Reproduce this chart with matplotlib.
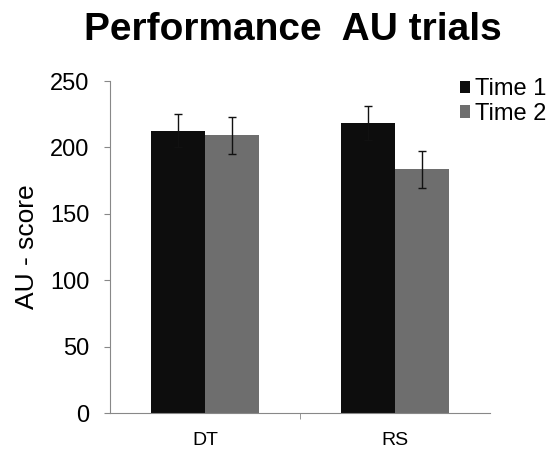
# Performance AU trials - grouped bars with error bars
import numpy as np
import matplotlib.pyplot as plt

plt.rcParams['font.family'] = ['Liberation Sans', 'DejaVu Sans']

# -------------------- Data --------------------
groups = ['DT', 'RS']
series = ['Time 1', 'Time 2']
time1 = [212.5, 218.5]
time2 = [209.0, 183.5]
time1_err = [12.5, 12.6]
time2_err = [13.6, 13.7]
colors = ['#0d0d0d', '#6e6e6e']
# ----------------------------------------------

fig = plt.figure(figsize=(5.54, 4.51), dpi=100)
ax = fig.add_axes([110 / 554, 1 - 413 / 451, 380 / 554, 332 / 451])

x = np.arange(len(groups))
w = 0.285
ax.bar(x - w / 2, time1, w, color=colors[0], label=series[0])
ax.bar(x + w / 2, time2, w, color=colors[1], label=series[1])
ax.errorbar(x - w / 2, time1, yerr=time1_err, fmt='none', ecolor='#111111',
            elinewidth=1.0, capsize=2.6, capthick=1.0)
ax.errorbar(x + w / 2, time2, yerr=time2_err, fmt='none', ecolor='#111111',
            elinewidth=1.0, capsize=2.6, capthick=1.0)

ax.set_xlim(-0.5, 1.5)
ax.set_ylim(0, 250)
ax.set_yticks(range(0, 251, 50))
ax.set_xticks(x)
ax.set_xticklabels(groups, fontsize=14)
ax.set_xticks([0.5], minor=True)
ax.tick_params(axis='x', which='major', length=0, pad=14)
ax.tick_params(axis='x', which='minor', length=4, color='#888888')
ax.tick_params(axis='y', labelsize=17, length=4, color='#888888', pad=11)
ax.set_ylabel('AU - score', fontsize=19, labelpad=8)

for s in ['top', 'right']:
    ax.spines[s].set_visible(False)
for s in ['left', 'bottom']:
    ax.spines[s].set_color('#888888')

fig.suptitle('Performance  AU trials', fontsize=28, fontweight='bold',
             x=0.528, y=0.974)

ax.legend(loc='upper left', bbox_to_anchor=(0.92, 1.008), frameon=False,
          fontsize=17, handlelength=0.45, handleheight=0.45, handletextpad=0.2,
          labelspacing=0.1, borderaxespad=0, borderpad=0)

fig.savefig('out.png', dpi=100)
